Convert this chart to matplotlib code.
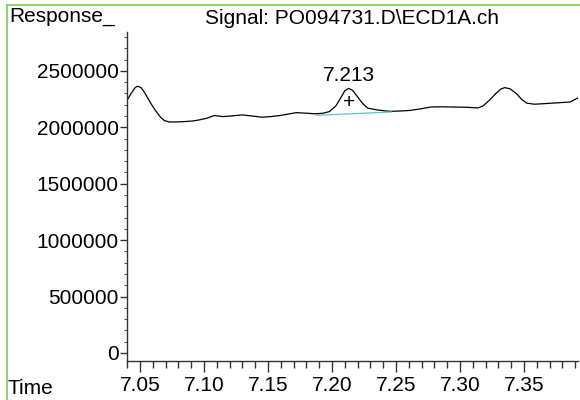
import matplotlib
matplotlib.use("Agg")
import matplotlib.pyplot as plt
from matplotlib.ticker import MultipleLocator, FixedLocator
from matplotlib.lines import Line2D

plt.rcParams['font.family'] = ['Liberation Sans', 'DejaVu Sans']

# Chromatogram trace (time in min, response)
time = [7.0398, 7.043, 7.046, 7.048, 7.051, 7.054, 7.058, 7.062, 7.066, 7.069,
        7.073, 7.080, 7.090, 7.0945, 7.102, 7.108, 7.115, 7.125, 7.130, 7.138,
        7.145, 7.152, 7.160, 7.167, 7.172, 7.180, 7.187, 7.193, 7.198, 7.203,
        7.207, 7.210, 7.213, 7.216, 7.220, 7.224, 7.228, 7.235, 7.242, 7.246,
        7.254, 7.261, 7.270, 7.277, 7.285, 7.295, 7.305, 7.314, 7.318, 7.323,
        7.328, 7.332, 7.335, 7.339, 7.344, 7.348, 7.352, 7.358, 7.366, 7.373,
        7.380, 7.386, 7.392]
response = [2240000, 2300000, 2350000, 2365000, 2350000, 2300000, 2220000, 2150000, 2090000, 2060000,
            2047000, 2048000, 2055000, 2062000, 2080000, 2105000, 2095000, 2105000, 2110000, 2100000,
            2090000, 2095000, 2106000, 2120000, 2130000, 2125000, 2120000, 2125000, 2140000, 2190000,
            2265000, 2325000, 2345000, 2328000, 2270000, 2210000, 2170000, 2155000, 2145000, 2142000,
            2145000, 2150000, 2165000, 2180000, 2182000, 2180000, 2178000, 2172000, 2190000, 2240000,
            2300000, 2340000, 2352000, 2342000, 2300000, 2250000, 2215000, 2205000, 2210000, 2215000,
            2220000, 2225000, 2260000]

# Integration baseline of the labelled peak
base_time = [7.1875, 7.2466]
base_resp = [2106000, 2136000]

peak_time = 7.213
peak_resp = 2345000
peak_label = "7.213"

title = "Signal: PO094731.D\\ECD1A.ch"
y_ticks = [0, 500000, 1000000, 1500000, 2000000, 2500000]
x_ticks = [7.05, 7.10, 7.15, 7.20, 7.25, 7.30, 7.35]
x_tick_labels = ["7.05", "7.10", "7.15", "7.20", "7.25", "7.30", "7.35"]

FS = 15

fig = plt.figure(figsize=(5.8, 4.0), dpi=100)
ax = fig.add_axes([127/580, 39/400, (578-127)/580, (361-32)/400])

ax.plot(time, response, color='black', lw=0.9)
ax.plot(base_time, base_resp, color='#5cc6d2', lw=0.9)

ax.set_xlim(7.0398, 7.3922)
ax.set_ylim(-71000, 2845000)

ax.annotate(peak_label, (peak_time, peak_resp), xytext=(0, 9), textcoords='offset points',
            ha='center', va='center', fontsize=FS)
ax.annotate("+", (peak_time, peak_resp), xytext=(0, -10), textcoords='offset points',
            ha='center', va='center', fontsize=FS)

for s in ['top', 'right']:
    ax.spines[s].set_visible(False)
for s in ['left', 'bottom']:
    ax.spines[s].set_color('#333333')
    ax.spines[s].set_linewidth(1.0)

ax.yaxis.set_major_locator(FixedLocator(y_ticks))
ax.yaxis.set_minor_locator(MultipleLocator(100000))
ax.set_yticks(y_ticks)
ax.set_yticklabels([str(v) for v in y_ticks])
ax.set_xticks(x_ticks)
ax.set_xticklabels(x_tick_labels)
ax.xaxis.set_minor_locator(MultipleLocator(0.01))

ax.tick_params(axis='both', which='major', labelsize=FS, colors='#333333', labelcolor='black',
               width=1.0)
ax.tick_params(axis='y', which='major', length=5, pad=1)
ax.tick_params(axis='y', which='minor', length=2.5, width=0.8, colors='#555555')
ax.tick_params(axis='x', which='major', length=8, pad=3)
ax.tick_params(axis='x', which='minor', length=5, width=1.0, colors='#333333')

fig.text(9/580, 1 - 17/400, "Response_", ha='left', va='center', fontsize=FS)
fig.text(352/580, 1 - 18/400, title, ha='center', va='center', fontsize=FS)
fig.text(8/580, 1 - 388/400, "Time", ha='left', va='center', fontsize=FS)

# green frame on top and left
fig.add_artist(Line2D([7/580, 7/580], [0, 1 - 5/400], transform=fig.transFigure, color='#7ccc5a', lw=1.2))
fig.add_artist(Line2D([7/580, 1], [1 - 5/400, 1 - 5/400], transform=fig.transFigure, color='#7ccc5a', lw=1.2))

fig.savefig("out.png", dpi=100)
